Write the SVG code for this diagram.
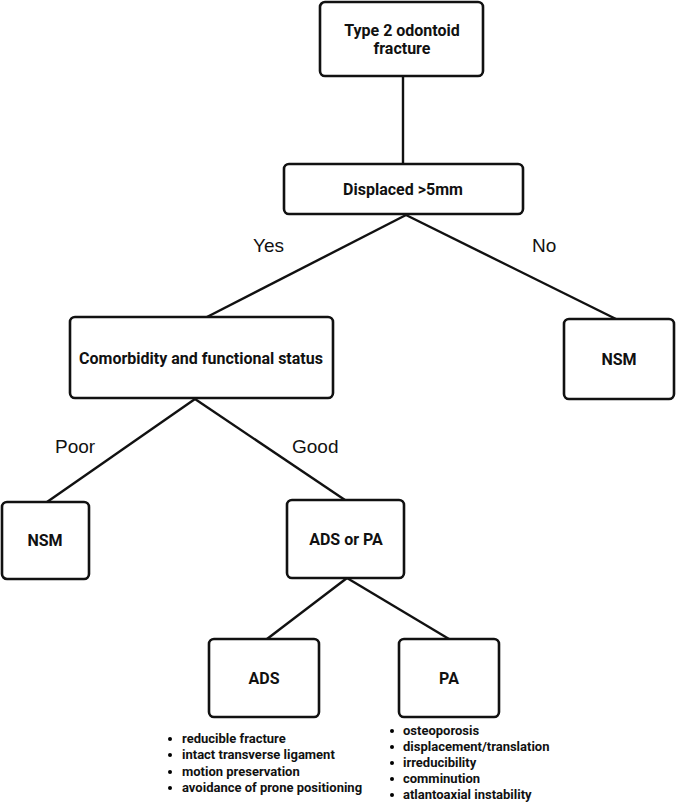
<svg xmlns="http://www.w3.org/2000/svg" width="677" height="803" viewBox="0 0 677 803">
<style>
.box{fill:#fff;stroke:#111;stroke-width:2.6}
.lbl{font-family:Roboto,"Liberation Sans",sans-serif;font-weight:bold;font-size:16px;fill:#111;text-anchor:middle}
.edge{font-family:"Liberation Sans",Arial,sans-serif;font-size:19px;fill:#111}
.li{font-family:Roboto,"Liberation Sans",sans-serif;font-weight:bold;font-size:13px;fill:#111}
.con{stroke:#111;stroke-width:2.4;fill:none}
</style>
<rect width="677" height="803" fill="#fff"/>
<g id="connectors">
<line class="con" x1="403" y1="76" x2="403" y2="164"/>
<line class="con" x1="406" y1="215" x2="205" y2="318"/>
<line class="con" x1="406" y1="215" x2="618" y2="320"/>
<line class="con" x1="195" y1="399" x2="47" y2="502"/>
<line class="con" x1="195" y1="399" x2="345" y2="500"/>
<line class="con" x1="347" y1="578" x2="267" y2="639"/>
<line class="con" x1="347" y1="578" x2="449" y2="639"/>
</g>
<g id="edge-labels">
<text class="edge" x="253" y="252">Yes</text>
<text class="edge" x="532" y="252">No</text>
<text class="edge" x="55" y="453">Poor</text>
<text class="edge" x="292" y="453">Good</text>
</g>
<g id="n-type2">
<rect class="box" x="320" y="2" width="163" height="74" rx="5"/>
<text class="lbl" x="402" y="36">Type 2 odontoid</text>
<text class="lbl" x="402" y="54">fracture</text>
</g>
<g id="n-displaced">
<rect class="box" x="284" y="164" width="239" height="50" rx="5"/>
<text class="lbl" x="403" y="195">Displaced &gt;5mm</text>
</g>
<g id="n-comorb">
<rect class="box" x="70" y="317" width="263" height="81" rx="5"/>
<text class="lbl" x="201" y="364">Comorbidity and functional status</text>
</g>
<g id="n-nsm-right">
<rect class="box" x="564" y="319" width="110" height="80" rx="5"/>
<text class="lbl" x="619" y="365">NSM</text>
</g>
<g id="n-nsm-left">
<rect class="box" x="2" y="502" width="87" height="77" rx="5"/>
<text class="lbl" x="45" y="546">NSM</text>
</g>
<g id="n-adspa">
<rect class="box" x="287" y="500" width="117" height="78" rx="5"/>
<text class="lbl" x="346" y="545">ADS or PA</text>
</g>
<g id="n-ads">
<rect class="box" x="209" y="639" width="110" height="78" rx="5"/>
<text class="lbl" x="264" y="684">ADS</text>
</g>
<g id="n-pa">
<rect class="box" x="399" y="639" width="100" height="78" rx="5"/>
<text class="lbl" x="449" y="684">PA</text>
</g>
<g id="ads-list">
<circle cx="170" cy="739" r="2"/><text class="li" x="182" y="743">reducible fracture</text>
<circle cx="170" cy="755" r="2"/><text class="li" x="182" y="759">intact transverse ligament</text>
<circle cx="170" cy="772" r="2"/><text class="li" x="182" y="776">motion preservation</text>
<circle cx="170" cy="788" r="2"/><text class="li" x="182" y="792">avoidance of prone positioning</text>
</g>
<g id="pa-list">
<circle cx="392" cy="731" r="2"/><text class="li" x="403" y="735">osteoporosis</text>
<circle cx="392" cy="747" r="2"/><text class="li" x="403" y="751">displacement/translation</text>
<circle cx="392" cy="763" r="2"/><text class="li" x="403" y="767">irreducibility</text>
<circle cx="392" cy="779" r="2"/><text class="li" x="403" y="783">comminution</text>
<circle cx="392" cy="795" r="2"/><text class="li" x="403" y="799">atlantoaxial instability</text>
</g>
</svg>
